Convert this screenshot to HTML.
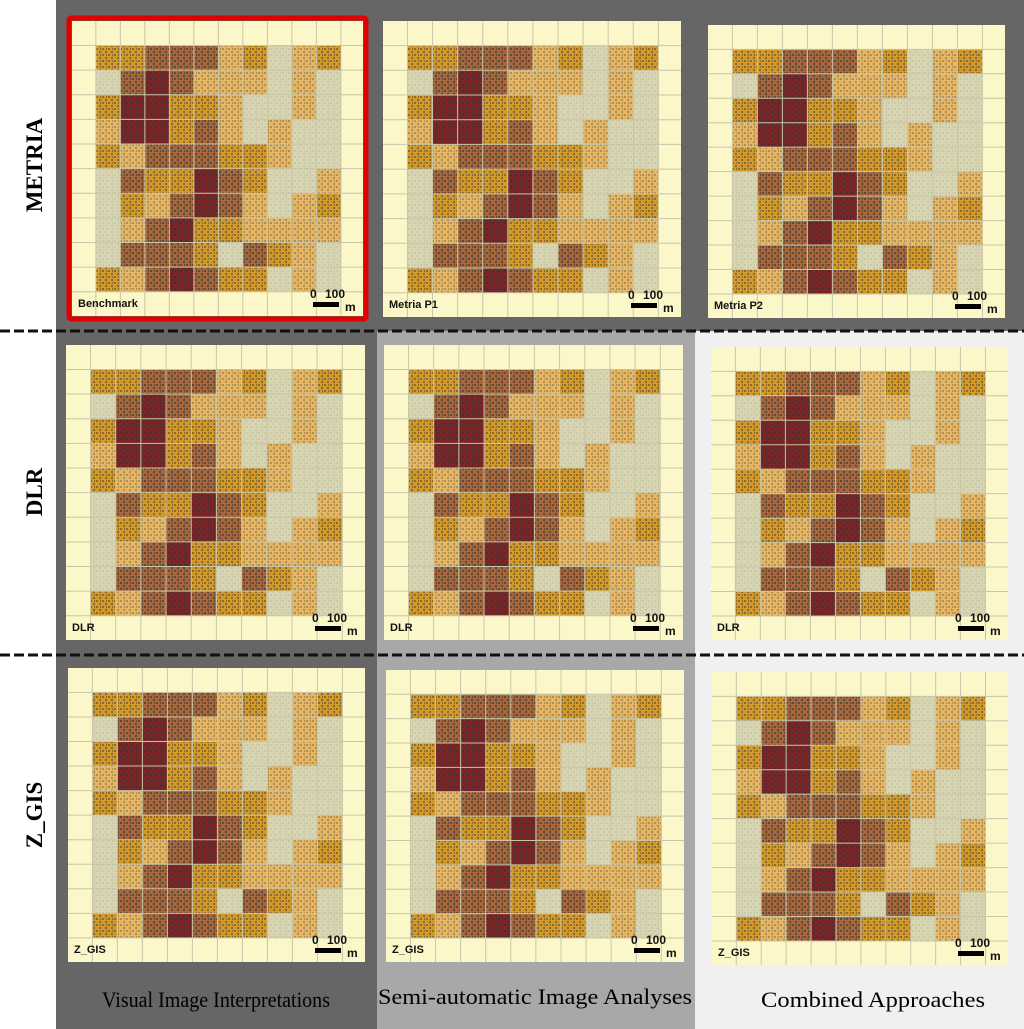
<!DOCTYPE html>
<html><head><meta charset="utf-8">
<style>
html,body{margin:0;padding:0;width:1024px;height:1029px;overflow:hidden;background:#fff;}
svg{display:block;}
</style></head>
<body>
<svg id="fig" width="1024" height="1029" viewBox="0 0 1024 1029" xmlns="http://www.w3.org/2000/svg">
  <defs>
    <pattern id="dots" width="6" height="6" patternUnits="userSpaceOnUse">
      <rect x="0" y="0" width="2" height="2" fill="#333"/>
      <rect x="3" y="3" width="2" height="2" fill="#333"/>
      <rect x="4" y="0" width="1" height="2" fill="#333"/>
    </pattern>
  </defs>
  <rect x="0" y="0" width="56" height="1029" fill="#ffffff"/>
  <rect x="56" y="0" width="968" height="331" fill="#666666"/>
  <rect x="56" y="331" width="321" height="698" fill="#666666"/>
  <rect x="377" y="331" width="318" height="698" fill="#a8a8a8"/>
  <rect x="695" y="331" width="329" height="698" fill="#f0f0f0"/>
  <line x1="0" y1="331" x2="1024" y2="331" stroke="#111" stroke-width="3" stroke-dasharray="10,4"/>
  <line x1="0" y1="655" x2="1024" y2="655" stroke="#111" stroke-width="3" stroke-dasharray="10,4"/>
  <text transform="translate(42,165) rotate(-90)" text-anchor="middle" font-family="Liberation Serif, serif" font-weight="bold" font-size="23">METRIA</text>
  <text transform="translate(42,492) rotate(-90)" text-anchor="middle" font-family="Liberation Serif, serif" font-weight="bold" font-size="23">DLR</text>
  <text transform="translate(42,815) rotate(-90)" text-anchor="middle" font-family="Liberation Serif, serif" font-weight="bold" font-size="23">Z_GIS</text>
  <text x="216" y="1007" text-anchor="middle" font-family="Liberation Serif, serif" font-size="22" textLength="228" lengthAdjust="spacingAndGlyphs">Visual Image Interpretations</text>
  <text x="535" y="1004" text-anchor="middle" font-family="Liberation Serif, serif" font-size="22" textLength="314" lengthAdjust="spacingAndGlyphs">Semi-automatic Image Analyses</text>
  <text x="873" y="1007" text-anchor="middle" font-family="Liberation Serif, serif" font-size="22" textLength="224" lengthAdjust="spacingAndGlyphs">Combined Approaches</text>
  <g id="panels"></g>
</svg>
<script>
// Cell density classes per grid (0 pale ... 4 darkest)
const gridRows = [
  [2,2,3,3,3,1,2,0,1,2],
  [0,3,4,3,1,1,1,0,1,0],
  [2,4,4,2,2,1,0,0,1,0],
  [1,4,4,2,3,1,0,1,0,0],
  [2,1,3,3,3,2,2,1,0,0],
  [0,3,2,2,4,3,2,0,0,1],
  [0,2,1,3,4,3,1,0,1,2],
  [0,1,3,4,2,2,1,1,1,1],
  [0,3,3,3,2,0,3,2,1,0],
  [2,1,3,4,3,2,2,0,1,0]
];
const classColors = ["#d8d6b2","#e6b662","#d39a2a","#a8673a","#7e2426"];
const dotOpacity = [0.08,0.3,0.45,0.6,0.6];
const panelLabels = ["Benchmark","Metria P1","Metria P2","DLR","DLR","DLR","Z_GIS","Z_GIS","Z_GIS"];
const panelNames = ["benchmark","metria-p1","metria-p2","dlr-visual","dlr-semi-automatic","dlr-combined","zgis-visual","zgis-semi-automatic","zgis-combined"];
const panelBoxes = [
  [72,21,291,295],[383,21,298,296],[708,25,297,293],
  [66,345,299,295],[384,345,299,295],[711,347,297,293],
  [68,668,297,294],[386,670,298,292],[712,672,296,293]
];
const NS="http://www.w3.org/2000/svg";
const root=document.getElementById('panels');
function mk(tag,attrs,parent){const e=document.createElementNS(NS,tag);for(const k in attrs)e.setAttribute(k,attrs[k]);parent.appendChild(e);return e;}
panelBoxes.forEach((b,i)=>{
  const [x,y,w,h]=b;
  const g=mk('g',{},root);
  
  
  if(i===0){
    const rb=mk('rect',{x:x-3,y:y-3,width:w+6,height:h+6,fill:'none',stroke:'#e00000','stroke-width':5,rx:2},g);
    
    
  }
  const bg=mk('rect',{x:x,y:y,width:w,height:h,fill:'#fbf7c9'},g);
  
  
  const cw=w*0.0842, ch=h*0.0835, ox=x+w*0.082, oy=y+h*0.083;
  gridRows.forEach((row,r)=>{
    row.forEach((v,c)=>{
      const cell=mk('rect',{x:ox+c*cw,y:oy+r*ch,width:cw,height:ch,fill:classColors[v]},g);
      
      
      mk('rect',{x:ox+c*cw,y:oy+r*ch,width:cw,height:ch,fill:'url(#dots)',opacity:dotOpacity[v]},g);
    });
  });
  for(let k=-1;k<=11;k++){
    const lx=ox+k*cw; if(lx>x&&lx<x+w) mk('line',{x1:lx,y1:y,x2:lx,y2:y+h,stroke:'#c8c6a8','stroke-width':1},g);
    const ly=oy+k*ch; if(ly>y&&ly<y+h) mk('line',{x1:x,y1:ly,x2:x+w,y2:ly,stroke:'#c8c6a8','stroke-width':1},g);
  }
  const t=mk('text',{x:x+6,y:y+h-9,'font-family':'Liberation Sans, sans-serif','font-weight':'bold','font-size':11,fill:'#111'},g);
  t.textContent=panelLabels[i];
  
  
  const s0=mk('text',{x:x+w-53,y:y+h-18,'font-family':'Liberation Sans, sans-serif','font-weight':'bold','font-size':12,fill:'#111'},g);
  s0.textContent='0';
  
  
  const s=mk('text',{x:x+w-38,y:y+h-18,'font-family':'Liberation Sans, sans-serif','font-weight':'bold','font-size':12,fill:'#111'},g);
  s.textContent='100';
  
  
  const bar=mk('rect',{x:x+w-50,y:y+h-14,width:26,height:5,fill:'#000'},g);
  
  
  const m=mk('text',{x:x+w-18,y:y+h-5,'font-family':'Liberation Sans, sans-serif','font-weight':'bold','font-size':12,fill:'#111'},g);
  m.textContent='m';
  
  
});
</script>
</body></html>
